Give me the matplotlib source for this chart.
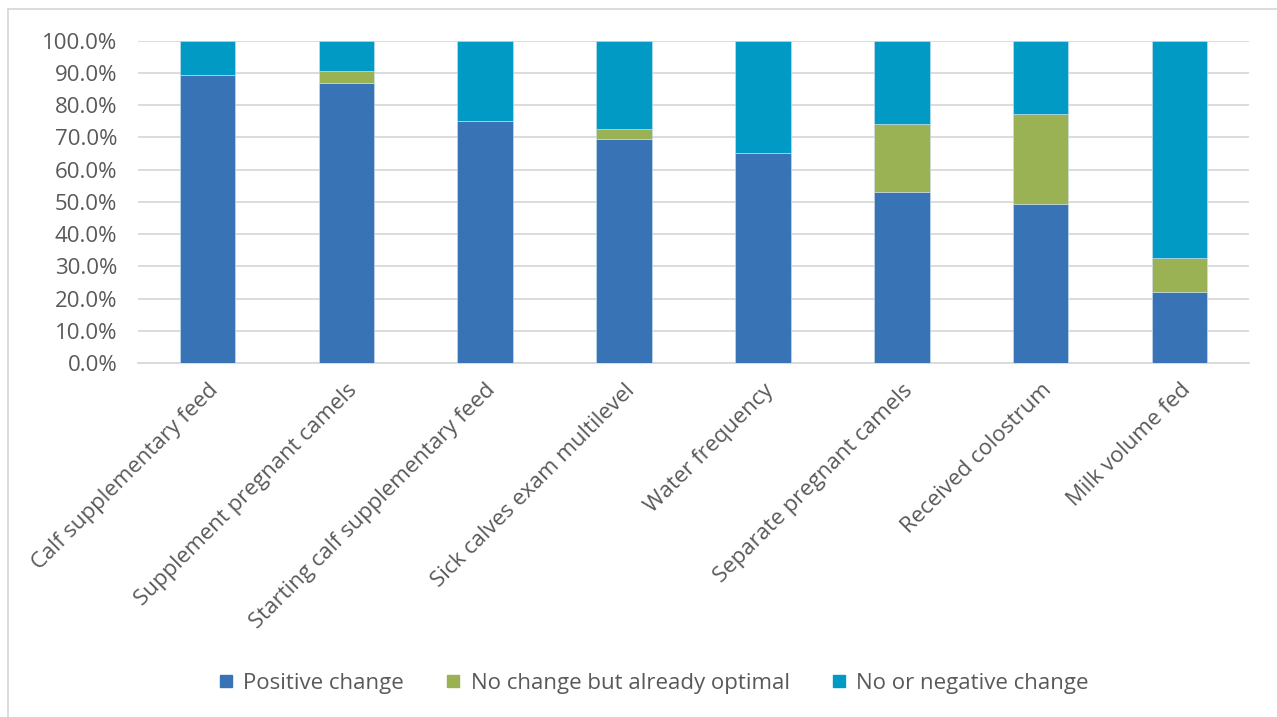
import matplotlib.pyplot as plt
import numpy as np
from matplotlib.lines import Line2D

plt.rcParams['font.family'] = ['Open Sans', 'DejaVu Sans']

practices = ['Calf supplementary feed', 'Supplement pregnant camels',
             'Starting calf supplementary feed', 'Sick calves exam multilevel',
             'Water frequency', 'Separate pregnant camels',
             'Received colostrum', 'Milk volume fed']
positive = [89.2, 86.7, 75.0, 69.5, 65.2, 53.1, 49.4, 22.0]
optimal = [0.0, 3.7, 0.0, 3.0, 0.0, 21.0, 27.7, 10.5]
negative = [100 - p - o for p, o in zip(positive, optimal)]

series = ['Positive change', 'No change but already optimal', 'No or negative change']
colors = ['#3873b5', '#9bb254', '#009ac4']
text_color = '#595959'

fig = plt.figure(figsize=(12.77, 7.17), dpi=100)
ax = fig.add_axes([0.1081, 0.4937, 0.8700, 0.4498])

x = np.arange(len(practices))
bottom = np.zeros(len(practices))
for vals, col in zip([positive, optimal, negative], colors):
    ax.bar(x, vals, 0.4, bottom=bottom, color=col, edgecolor='#cfe0ef',
           linewidth=0.4, zorder=3)
    bottom += np.array(vals)

ax.set_xlim(-0.5, len(practices) - 0.5)
ax.set_ylim(0, 100)
ax.set_yticks(np.arange(0, 101, 10))
ax.set_yticklabels([f'{v:.1f}%' for v in range(0, 101, 10)])
ax.yaxis.grid(True, color='#d9d9d9', linewidth=1.3, zorder=0)
ax.set_axisbelow(True)
for s in ax.spines.values():
    s.set_visible(False)
ax.spines['bottom'].set_visible(True)
ax.spines['bottom'].set_color('#d9d9d9')
ax.spines['bottom'].set_linewidth(1.3)

ax.tick_params(axis='both', length=0, colors=text_color, labelsize=16)
ax.tick_params(axis='y', pad=15)
ax.set_xticks(x)
ax.set_xticklabels(practices, rotation=45, ha='right', va='top',
                   rotation_mode='anchor', fontsize=16)
ax.tick_params(axis='x', pad=12)

handles = [Line2D([], [], marker='s', linestyle='none', markersize=8,
                  markerfacecolor=c, markeredgecolor=c) for c in colors]
fig.legend(handles, series, loc='center', bbox_to_anchor=(0.506, 0.047),
           ncol=3, frameon=False, fontsize=16, labelcolor=text_color,
           handletextpad=-0.2, columnspacing=1.2)

# light frame around the chart area
fig.add_artist(Line2D([0.0063, 1.0], [0.988, 0.988], transform=fig.transFigure,
                      color='#d9d9d9', linewidth=1.3))
fig.add_artist(Line2D([0.0063, 0.0063], [0.0, 0.988], transform=fig.transFigure,
                      color='#d9d9d9', linewidth=1.3))

fig.savefig('out.png', dpi=100)
